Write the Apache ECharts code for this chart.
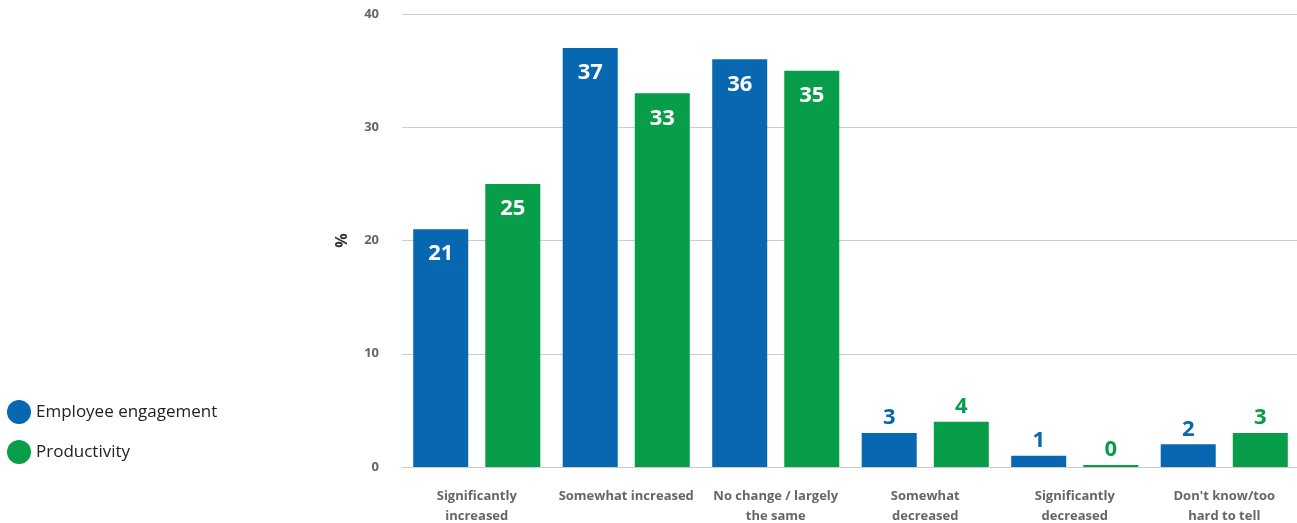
<!DOCTYPE html>
<html>
<head>
<meta charset="utf-8">
<script src="https://cdn.jsdelivr.net/npm/echarts@6/dist/echarts.min.js"></script>
<style>
  html, body { margin: 0; padding: 0; background: #fff; }
  #main { width: 1297px; height: 523px; }
</style>
</head>
<body>
<div id="main"></div>
<script>
var categories = ['Significantly\nincreased', 'Somewhat increased', 'No change / largely\nthe same',
                  'Somewhat\ndecreased', 'Significantly\ndecreased', "Don't know/too\nhard to tell"];
var engagement = [21, 37, 36, 3, 1, 2];
var productivity = [25, 33, 35, 4, 0, 3];
var seriesNames = ['Employee engagement', 'Productivity'];
var yTicks = [0, 10, 20, 30, 40];

var BLUE = '#0767b1';
var GREEN = '#079d49';
var FONT = '"Open Sans", Lato, sans-serif';

// big bars get a white label inside, small ones a coloured label above
function withLabels(values, color) {
    return values.map(function (v) {
        var inside = v >= 10;
        return {
            value: v,
            label: {
                show: true,
                position: inside ? 'insideTop' : 'top',
                distance: inside ? 14 : 4,
                color: inside ? '#fff' : color,
                fontSize: 22,
                fontWeight: 'bold',
                fontFamily: FONT
            }
        };
    });
}

var myChart = echarts.init(document.getElementById('main'));
var option = {
    animation: false,
    legend: {
        orient: 'vertical',
        left: 2,
        top: 395,
        icon: 'circle',
        itemWidth: 24,
        itemHeight: 24,
        itemGap: 16,
        textStyle: { fontSize: 17, color: '#222', fontFamily: FONT },
        data: seriesNames
    },
    grid: { left: 402, right: -2, top: 14, bottom: 56, outerBoundsMode: 'none' },
    xAxis: {
        type: 'category',
        data: categories,
        axisLine: { lineStyle: { color: '#ccc' } },
        axisTick: { show: false },
        axisLabel: {
            interval: 0,
            margin: 19,
            color: '#666',
            fontSize: 13,
            fontWeight: 'bold',
            lineHeight: 20,
            fontFamily: FONT
        }
    },
    yAxis: {
        type: 'value',
        min: yTicks[0],
        max: yTicks[yTicks.length - 1],
        interval: 10,
        name: '%',
        nameLocation: 'middle',
        nameGap: 52,
        nameRotate: 90,
        nameTextStyle: { color: '#333', fontSize: 16, fontWeight: 'bold', fontFamily: FONT },
        axisLine: { show: false },
        axisTick: { show: false },
        splitLine: { lineStyle: { color: '#ccc' } },
        axisLabel: { margin: 23, color: '#666', fontSize: 13, fontWeight: 'bold', fontFamily: FONT }
    },
    series: [
        {
            name: seriesNames[0],
            type: 'bar',
            barGap: '31%',
            barCategoryGap: '15%',
            barMinHeight: 2,
            itemStyle: { color: BLUE },
            data: withLabels(engagement, BLUE)
        },
        {
            name: seriesNames[1],
            type: 'bar',
            barGap: '31%',
            barCategoryGap: '15%',
            barMinHeight: 2,
            itemStyle: { color: GREEN },
            data: withLabels(productivity, GREEN)
        }
    ]
};
myChart.setOption(option);
</script>
</body>
</html>
